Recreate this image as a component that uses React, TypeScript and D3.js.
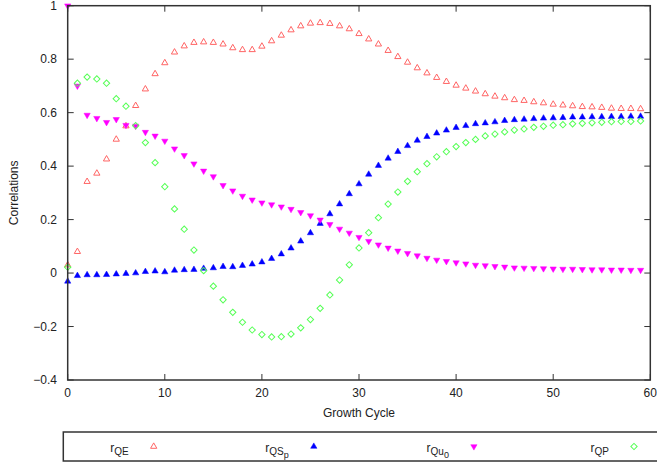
import React from "react";
import * as d3 from "d3";

const width = 657;
const height = 463;
const margin = { top: 5.7, right: 6.7, bottom: 83, left: 67.7 };

// growth cycles 0..59
const cycles = d3.range(60);

const rQE = [
  0.03, 0.08, 0.342, 0.373, 0.426, 0.5, 0.55, 0.626, 0.688, 0.745, 0.786, 0.826,
  0.849, 0.862, 0.864, 0.862, 0.856, 0.842, 0.835, 0.835, 0.848, 0.868, 0.889,
  0.909, 0.924, 0.934, 0.936, 0.933, 0.924, 0.913, 0.895, 0.875, 0.856, 0.832,
  0.809, 0.788, 0.767, 0.748, 0.731, 0.716, 0.702, 0.691, 0.68, 0.67, 0.661,
  0.655, 0.648, 0.645, 0.64, 0.636, 0.631, 0.628, 0.625, 0.622, 0.621, 0.619,
  0.616, 0.615, 0.615, 0.614,
];

const rQSp = [
  -0.031, -0.01, -0.007, -0.007, -0.006, -0.004, -0.002, 0.0, 0.005, 0.007,
  0.004, 0.01, 0.012, 0.013, 0.017, 0.019, 0.024, 0.023, 0.028, 0.033, 0.041,
  0.054, 0.071, 0.093, 0.119, 0.15, 0.185, 0.221, 0.258, 0.296, 0.333, 0.369,
  0.402, 0.429, 0.454, 0.476, 0.496, 0.51, 0.523, 0.534, 0.544, 0.551, 0.558,
  0.561, 0.565, 0.57, 0.573, 0.575, 0.577, 0.579, 0.58, 0.581, 0.583, 0.583,
  0.584, 0.584, 0.585, 0.585, 0.586, 0.586,
];

const rQu0 = [
  1.0, 0.7, 0.591, 0.579, 0.564, 0.575, 0.553, 0.55, 0.527, 0.513, 0.494, 0.465,
  0.44, 0.409, 0.382, 0.361, 0.328, 0.308, 0.288, 0.274, 0.263, 0.256, 0.248,
  0.239, 0.227, 0.215, 0.199, 0.182, 0.165, 0.15, 0.134, 0.119, 0.106, 0.094,
  0.083, 0.074, 0.065, 0.056, 0.049, 0.044, 0.039, 0.035, 0.03, 0.028, 0.025,
  0.023, 0.02, 0.019, 0.018, 0.017, 0.016, 0.015, 0.015, 0.014, 0.013, 0.013,
  0.012, 0.012, 0.011, 0.011,
];

const rQP = [
  0.022, 0.71, 0.733, 0.726, 0.71, 0.652, 0.624, 0.551, 0.488, 0.413, 0.323,
  0.24, 0.164, 0.086, 0.009, -0.049, -0.1, -0.147, -0.184, -0.213, -0.23,
  -0.239, -0.238, -0.228, -0.205, -0.174, -0.132, -0.082, -0.026, 0.031, 0.094,
  0.151, 0.207, 0.258, 0.303, 0.343, 0.379, 0.409, 0.435, 0.454, 0.473, 0.488,
  0.5, 0.513, 0.52, 0.528, 0.535, 0.539, 0.545, 0.549, 0.553, 0.555, 0.558,
  0.56, 0.562, 0.564, 0.566, 0.567, 0.567, 0.569,
];

const xTicks = [0, 10, 20, 30, 40, 50, 60];
const yTicks = [-0.4, -0.2, 0, 0.2, 0.4, 0.6, 0.8, 1];

type Marker = "triUp" | "triUpFill" | "triDownFill" | "diamond";

const series: {
  key: string;
  sub: string;
  subsub?: string;
  values: number[];
  color: string;
  marker: Marker;
}[] = [
  { key: "QE", sub: "QE", values: rQE, color: "#ff6464", marker: "triUp" },
  { key: "QSp", sub: "QS", subsub: "p", values: rQSp, color: "#0000ff", marker: "triUpFill" },
  { key: "Qu0", sub: "Qu", subsub: "0", values: rQu0, color: "#ff00ff", marker: "triDownFill" },
  { key: "QP", sub: "QP", values: rQP, color: "#55ff55", marker: "diamond" },
];

const triangle = d3.symbol().type(d3.symbolTriangle).size(17)()!;
const diamond = d3.symbol().type(d3.symbolSquare).size(20)()!;

function MarkerShape({ m, color, x, y }: { m: Marker; color: string; x: number; y: number }) {
  if (m === "diamond") {
    return (
      <path d={diamond} transform={`translate(${x},${y}) rotate(45)`} fill="none" stroke={color} strokeWidth={1} />
    );
  }
  const rot = m === "triDownFill" ? 180 : 0;
  const filled = m !== "triUp";
  return (
    <path
      d={triangle}
      transform={`translate(${x},${y}) rotate(${rot})`}
      fill={filled ? color : "none"}
      stroke={color}
      strokeWidth={filled ? 0.5 : 1}
    />
  );
}

export default function App() {
  const x = d3.scaleLinear().domain([0, 60]).range([margin.left, width - margin.right]);
  const y = d3.scaleLinear().domain([-0.4, 1]).range([height - margin.bottom, margin.top]);
  const [x0, x1] = x.range();
  const [y0, y1] = y.range();
  const axisColor = "#333";
  const font = "'Liberation Sans', Arial, sans-serif";
  const tick = 6;

  return (
    <svg
      width={width}
      height={height}
      style={{ position: "absolute", left: 0, top: 0, background: "#fff" }}
      fontFamily={font}
    >
      {/* points */}
      {series.map((s) => (
        <g key={s.key}>
          {s.values.map((v, i) => (
            <MarkerShape key={i} m={s.marker} color={s.color} x={x(cycles[i])} y={y(v)} />
          ))}
        </g>
      ))}

      {/* frame */}
      <rect x={x0} y={y1} width={x1 - x0} height={y0 - y1} fill="none" stroke={axisColor} strokeWidth={1.5} />

      {/* x ticks */}
      {xTicks.map((t) => (
        <g key={"x" + t}>
          <line x1={x(t)} x2={x(t)} y1={y0} y2={y0 - tick} stroke={axisColor} strokeWidth={1} />
          <line x1={x(t)} x2={x(t)} y1={y1} y2={y1 + tick} stroke={axisColor} strokeWidth={1} />
          <text x={x(t)} y={396.5} textAnchor="middle" fontSize={12} fill="#222">
            {t}
          </text>
        </g>
      ))}

      {/* y ticks */}
      {yTicks.map((t) => (
        <g key={"y" + t}>
          <line x1={x0} x2={x0 + tick} y1={y(t)} y2={y(t)} stroke={axisColor} strokeWidth={1} />
          <line x1={x1} x2={x1 - tick} y1={y(t)} y2={y(t)} stroke={axisColor} strokeWidth={1} />
          <text x={57} y={y(t)} dy="0.36em" textAnchor="end" fontSize={12} fill="#222">
            {d3.format("~g")(t)}
          </text>
        </g>
      ))}

      {/* axis titles */}
      <text x={(x0 + x1) / 2} y={416.5} textAnchor="middle" fontSize={12} fill="#222">
        Growth Cycle
      </text>
      <text
        transform={`translate(18,${(y0 + y1) / 2}) rotate(-90)`}
        textAnchor="middle"
        fontSize={12}
        fill="#222"
      >
        Correlations
      </text>

      {/* legend */}
      <rect x={63.3} y={432} width={700} height={29} fill="none" stroke={axisColor} strokeWidth={1.5} />
      {series.map((s, i) => {
        const mx = 153.7 + i * 160.1;
        return (
          <g key={"leg" + s.key}>
            <text x={mx - 25} y={451.5} textAnchor="end" fontSize={12} fill="#222">
              r
              <tspan fontSize={10} dy={3}>
                {s.sub}
              </tspan>
              {s.subsub && (
                <tspan fontSize={9} dy={3}>
                  {s.subsub}
                </tspan>
              )}
            </text>
            <MarkerShape m={s.marker} color={s.color} x={mx} y={446.5} />
          </g>
        );
      })}
    </svg>
  );
}
